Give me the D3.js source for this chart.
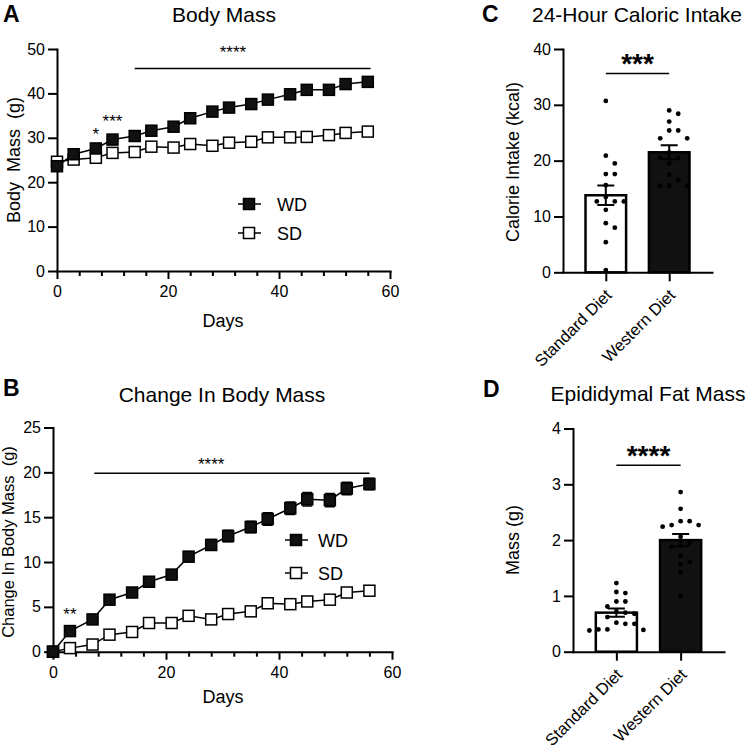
<!DOCTYPE html>
<html>
<head>
<meta charset="utf-8">
<script src="https://cdn.jsdelivr.net/npm/d3@7"></script>
<style>
  body { margin: 0; background: #fff; }
  svg { font-family: "Liberation Sans", Arial, sans-serif; }
</style>
</head>
<body>
<svg id="viz" width="750" height="750"></svg>
<script>
// ---- data ----
const days = [0, 3, 7, 10, 14, 17, 21, 24, 28, 31, 35, 38, 42, 45, 49, 52, 56];
const massWD = [23.6, 26.3, 27.6, 29.6, 30.4, 31.6, 32.5, 34.4, 35.9, 36.8, 37.6, 38.6, 39.8, 40.8, 40.8, 42.1, 42.6];
const massSD = [24.6, 25.1, 25.5, 26.6, 26.8, 28.0, 27.8, 28.6, 28.2, 28.9, 29.1, 30.1, 30.1, 30.2, 30.6, 31.1, 31.4];
const changeWD = [0, 2.3, 3.6, 5.8, 6.6, 7.8, 8.6, 10.6, 11.9, 12.9, 13.9, 14.8, 16.0, 17.0, 16.9, 18.2, 18.7];
const changeSD = [0, 0.4, 0.8, 1.9, 2.2, 3.2, 3.2, 4.0, 3.6, 4.2, 4.5, 5.4, 5.3, 5.6, 5.8, 6.6, 6.8];
const changeWDsem = [0, 0.2, 0.3, 0.35, 0.4, 0.45, 0.55, 0.55, 0.6, 0.65, 0.65, 0.7, 0.7, 0.75, 0.75, 0.7, 0.65];

const dietLabels = ["Standard Diet", "Western Diet"];
const calorieSD = [30.7, 20.9, 19.5, 17.6, 17.6, 15.6, 13.5, 12.7, 12.7, 12.7, 11.2, 8.8, 8.0, 5.4, 0.4];
const calorieWD = [29.0, 28.4, 27.0, 25.4, 25.4, 24.0, 24.0, 21.5, 20.5, 20.5, 19.5, 17.5, 16.5, 15.5, 15.5, 15.5];
const calorieMean = [13.8, 21.5];
const calorieSem = [1.75, 1.25];
const fatSD = [1.23, 1.07, 1.05, 0.90, 0.90, 0.81, 0.72, 0.70, 0.68, 0.62, 0.52, 0.50, 0.50, 0.40, 0.40, 0.39, 0.38];
const fatWD = [2.86, 2.56, 2.34, 2.34, 2.27, 2.27, 2.24, 2.06, 1.95, 1.90, 1.88, 1.72, 1.61, 1.57, 1.42, 1.00];
const fatMean = [0.70, 2.0];
const fatSem = [0.075, 0.11];

const svg = d3.select("#viz");

function styleAxis(g) {
    g.select(".domain").attr("stroke", "#000").attr("stroke-width", 2).attr("stroke-linecap", "square");
    g.selectAll(".tick line").attr("stroke", "#000").attr("stroke-width", 2);
    g.selectAll(".tick text").attr("fill", "#000").attr("font-size", 16);
}

function panelText(t) {
    svg.append("text").attr("x", t.x).attr("y", t.y)
        .attr("text-anchor", t.anchor || "middle")
        .attr("font-size", t.size)
        .attr("font-weight", t.bold ? "bold" : null)
        .attr("transform", t.rotate ? `rotate(-90,${t.x},${t.y})` : null)
        .style("white-space", "pre")
        .text(t.text);
}

function drawSquare(g, cx, cy, filled) {
    g.append("rect")
        .attr("x", cx - 5.5).attr("y", cy - 5.5)
        .attr("width", 11).attr("height", 11)
        .attr("fill", filled ? "#111" : "#fff")
        .attr("stroke", "#000").attr("stroke-width", 1.5);
}

// ---- line panels (A, B) ----
function linePanel(c) {
    const x = d3.scaleLinear().domain([0, 60]).range([c.left, c.right]);
    const y = d3.scaleLinear().domain([0, c.ymax]).range([c.bottom, c.top]);
    const g = svg.append("g");

    // minor x ticks
    const minor = g.append("g").attr("transform", `translate(0,${c.bottom})`)
        .call(d3.axisBottom(x).tickValues(d3.range(0, 61, 4).filter(v => v % 20)).tickSize(5).tickFormat(""));
    minor.select(".domain").remove();
    minor.selectAll(".tick line").attr("stroke", "#000").attr("stroke-width", 2);

    const xa = g.append("g").attr("transform", `translate(0,${c.bottom})`)
        .call(d3.axisBottom(x).tickValues([0, 20, 40, 60]).tickSize(8).tickSizeOuter(0).tickPadding(7));
    styleAxis(xa);
    const ya = g.append("g").attr("transform", `translate(${c.left},0)`)
        .call(d3.axisLeft(y).tickValues(c.yticks).tickSize(9).tickSizeOuter(0).tickPadding(3));
    styleAxis(ya);

    const line = d3.line().x(d => x(d[0])).y(d => y(d[1]));
    [c.sd, c.wd].forEach(vals => {
        const pts = days.map((d, i) => [d, vals[i]]);
        g.append("path").datum(pts).attr("d", line)
            .attr("fill", "none").attr("stroke", "#000").attr("stroke-width", 1.5);
    });
    if (c.wdSem) {
        days.forEach((d, i) => {
            const s = c.wdSem[i];
            if (!s) return;
            g.append("path")
                .attr("d", `M${x(d) - 5},${y(c.wd[i] + s)}H${x(d) + 5}M${x(d)},${y(c.wd[i] + s)}V${y(c.wd[i] - s)}M${x(d) - 5},${y(c.wd[i] - s)}H${x(d) + 5}`)
                .attr("stroke", "#000").attr("stroke-width", 1.5).attr("fill", "none");
        });
    }
    days.forEach((d, i) => drawSquare(g, x(d), y(c.sd[i]), false));
    days.forEach((d, i) => drawSquare(g, x(d), y(c.wd[i]), true));

    // significance
    g.append("line").attr("x1", x(c.sig.from)).attr("x2", x(c.sig.to))
        .attr("y1", y(c.sig.level)).attr("y2", y(c.sig.level))
        .attr("stroke", "#000").attr("stroke-width", 1.5);
    c.stars.forEach(s => {
        g.append("text").attr("x", x(s.day)).attr("y", y(s.val) + 8)
            .attr("text-anchor", "middle").attr("font-size", 17).text(s.label);
    });

    // legend
    c.legend.forEach((l, i) => {
        const ly = c.legendY + i * c.legendGap;
        g.append("line").attr("x1", c.legendX - 11).attr("x2", c.legendX + 12)
            .attr("y1", ly).attr("y2", ly).attr("stroke", "#000").attr("stroke-width", 1.5);
        drawSquare(g, c.legendX, ly, l.filled);
        g.append("text").attr("x", c.legendX + c.legendTextDx).attr("y", ly + 6.5)
            .attr("font-size", 18).text(l.name);
    });
}

linePanel({
    left: 57, right: 390, top: 49, bottom: 271, ymax: 50, yticks: [0, 10, 20, 30, 40, 50],
    wd: massWD, sd: massSD,
    sig: {from: 14, to: 56.5, level: 45.6},
    stars: [{day: 31.7, val: 49.8, label: "****"}, {day: 7, val: 31.2, label: "*"}, {day: 10, val: 34.2, label: "***"}],
    legend: [{name: "WD", filled: true}, {name: "SD", filled: false}],
    legendX: 249, legendY: 204, legendGap: 29, legendTextDx: 28
});
linePanel({
    left: 53, right: 392, top: 427.5, bottom: 651.7, ymax: 25, yticks: [0, 5, 10, 15, 20, 25],
    wd: changeWD, sd: changeSD, wdSem: changeWDsem,
    sig: {from: 7.3, to: 56, level: 19.9},
    stars: [{day: 28, val: 21.1, label: "****"}, {day: 3, val: 4.4, label: "**"}],
    legend: [{name: "WD", filled: true}, {name: "SD", filled: false}],
    legendX: 296, legendY: 540, legendGap: 33, legendTextDx: 22
});

// ---- bar panels (C, D) ----
function barPanel(c) {
    const x = d3.scalePoint().domain(dietLabels).range([c.left, c.right]).padding(0.675);
    const y = d3.scaleLinear().domain([0, c.ymax]).range([c.bottom, c.top]);
    const bw = x.step() * 0.64;
    const g = svg.append("g");

    const xa = g.append("g").attr("transform", `translate(0,${c.bottom})`)
        .call(d3.axisBottom(x).tickSize(9).tickSizeOuter(0).tickFormat(""));
    styleAxis(xa);
    const ya = g.append("g").attr("transform", `translate(${c.left},0)`)
        .call(d3.axisLeft(y).tickValues(c.yticks).tickFormat(d3.format("d")).tickSize(9).tickSizeOuter(0).tickPadding(3));
    styleAxis(ya);

    dietLabels.forEach(lab => {
        g.append("text")
            .attr("transform", `translate(${x(lab) + 7},${c.bottom + 24}) rotate(-45)`)
            .attr("text-anchor", "end").attr("font-size", 16.5).text(lab);
    });

    g.selectAll("rect.bar").data(c.mean).enter().append("rect")
        .attr("x", (d, i) => x(dietLabels[i]) - bw / 2)
        .attr("y", d => y(d))
        .attr("width", bw).attr("height", d => c.bottom - y(d))
        .attr("fill", (d, i) => i ? "#111" : "#fff")
        .attr("stroke", "#000").attr("stroke-width", 2.5);

    [c.sd, c.wd].forEach((vals, i) => {
        const cx = x(dietLabels[i]);
        const placed = [];
        vals.map(v => y(v)).sort((a, b) => a - b).forEach(py => {
            const offs = [0];
            for (let k = 1; k < 10; k++) offs.push(k * 9, -k * 9);
            for (const o of offs) {
                const px = cx + o;
                if (placed.every(p => Math.hypot(p[0] - px, p[1] - py) >= 8)) {
                    placed.push([px, py]);
                    break;
                }
            }
        });
        g.selectAll(null).data(placed).enter().append("circle")
            .attr("cx", d => d[0]).attr("cy", d => d[1]).attr("r", 2.4).attr("fill", "#000");
    });

    c.mean.forEach((m, i) => {
        const cx = x(dietLabels[i]);
        g.append("path")
            .attr("d", `M${cx - 8.5},${y(m + c.sem[i])}H${cx + 8.5}M${cx},${y(m + c.sem[i])}V${y(m - c.sem[i])}M${cx - 8.5},${y(m - c.sem[i])}H${cx + 8.5}`)
            .attr("stroke", "#000").attr("stroke-width", 2).attr("fill", "none");
    });

    g.append("line").attr("x1", x(dietLabels[0])).attr("x2", x(dietLabels[1]))
        .attr("y1", y(c.sigLevel)).attr("y2", y(c.sigLevel))
        .attr("stroke", "#000").attr("stroke-width", 1.5);
    g.append("text").attr("x", (x(dietLabels[0]) + x(dietLabels[1])) / 2).attr("y", y(c.starLevel) + 14)
        .attr("text-anchor", "middle").attr("font-size", 28).attr("font-weight", "bold").text(c.stars);
}

barPanel({
    left: 563, right: 712, top: 49, bottom: 272.3, ymax: 40, yticks: [0, 10, 20, 30, 40],
    sd: calorieSD, wd: calorieWD, mean: calorieMean, sem: calorieSem,
    sigLevel: 35.6, starLevel: 38.2, stars: "***"
});
barPanel({
    left: 573, right: 724, top: 428.5, bottom: 651.7, ymax: 4, yticks: [0, 1, 2, 3, 4],
    sd: fatSD, wd: fatWD, mean: fatMean, sem: fatSem,
    sigLevel: 3.34, starLevel: 3.6, stars: "****"
});

// ---- titles and axis labels ----
[
    {x: 3, y: 22, text: "A", size: 23, bold: true, anchor: "start"},
    {x: 224, y: 22, text: "Body Mass", size: 21},
    {x: 223, y: 327, text: "Days", size: 18},
    {x: 20, y: 160, text: "Body  Mass  (g)", size: 18, rotate: true},
    {x: 3, y: 396, text: "B", size: 23, bold: true, anchor: "start"},
    {x: 222, y: 402, text: "Change In Body Mass", size: 21},
    {x: 223, y: 703, text: "Days", size: 18},
    {x: 14, y: 542, text: "Change In Body Mass  (g)", size: 16.5, rotate: true},
    {x: 482, y: 22, text: "C", size: 23, bold: true, anchor: "start"},
    {x: 637, y: 22, text: "24-Hour Caloric Intake", size: 21},
    {x: 519, y: 162, text: "Calorie Intake (kcal)", size: 18, rotate: true},
    {x: 483, y: 397, text: "D", size: 23, bold: true, anchor: "start"},
    {x: 648, y: 401, text: "Epididymal Fat Mass", size: 21},
    {x: 519, y: 540, text: "Mass (g)", size: 18, rotate: true}
].forEach(panelText);
</script>
</body>
</html>
